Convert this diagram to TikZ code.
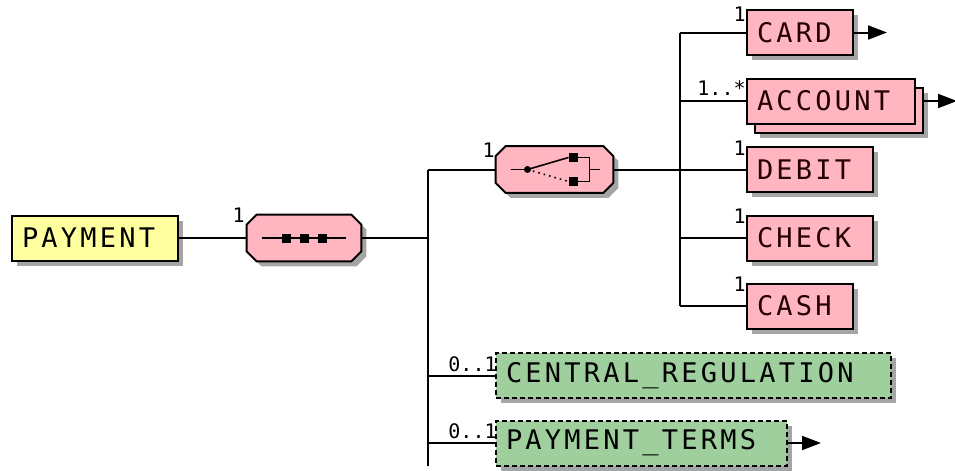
\documentclass[tikz,border=0pt]{standalone}
\usepackage{fontspec}
\usetikzlibrary{shadows,arrows.meta}
\newfontfamily\elemfont{DejaVu Sans Mono}[LetterSpace=12]
\newfontfamily\multfont{DejaVu Sans Mono}
\definecolor{elempink}{RGB}{255,182,193}
\definecolor{elemgreen}{RGB}{160,207,158}
\definecolor{elemyellow}{RGB}{255,255,160}
\definecolor{shadowgrey}{RGB}{165,165,165}
\tikzset{
  shade/.style={drop shadow={shadow xshift=2.5pt, shadow yshift=-2.5pt, fill=shadowgrey, opacity=1}},
  flatelem/.style={draw, line width=1pt, fill=elempink, text=black!85!red,
    text width=#1, align=left, inner xsep=5pt, inner ysep=0pt, minimum height=22.5pt,
    font=\elemfont\fontsize{13.5}{15}\selectfont},
  elem/.style={flatelem=#1, shade},
  optelem/.style={elem=#1, fill=elemgreen, text=black, dash pattern=on 2.5pt off 1.5pt},
  rootelem/.style={elem=#1, fill=elemyellow, text=black},
  compositor/.style={minimum width=#1, minimum height=23pt, inner sep=0pt},
  mult/.style={anchor=south east, inner sep=0pt, font=\multfont\fontsize{10}{11}\selectfont},
  link/.style={line width=1pt},
  goto/.style={link, -{Triangle[length=9.5pt, width=7pt]}}
}
% octagon drawn round a compositor node
\newcommand\compbox[1]{%
  \draw[line width=1pt, fill=elempink, shade]
    ([xshift=5pt]#1.north west) -- ([xshift=-5pt]#1.north east)
    -- ([yshift=-5pt]#1.north east) -- ([yshift=5pt]#1.south east)
    -- ([xshift=-5pt]#1.south east) -- ([xshift=5pt]#1.south west)
    -- ([yshift=5pt]#1.south west) -- ([yshift=-5pt]#1.north west) -- cycle;}
\begin{document}
\begin{tikzpicture}[x=0.5pt, y=-0.5pt]
\useasboundingbox (0,0) rectangle (955,471);

% junctions of the tree
\coordinate (seqjoin) at (428,238);
\coordinate (seqend) at (428,466);
\coordinate (choicejoin) at (680,169.5);

% root and compositors
\node[rootelem=73pt] (payment) at (95,238) {PAYMENT};
\node[compositor=57pt] (seq) at (304,238) {};
\node[compositor=58.5pt] (choice) at (554.5,169.5) {};
\compbox{seq}
\compbox{choice}

% choice members
\node[elem=43pt] (card) at (800,32.5) {CARD};
\node[elem=74pt] (accountback) at (839,110) {};
\node[flatelem=74pt] (account) at (831,101) {ACCOUNT};
\node[elem=53pt] (debit) at (810,169.5) {DEBIT};
\node[elem=53pt] (check) at (810,238) {CHECK};
\node[elem=43pt] (cash) at (800,306) {CASH};

% optional elements
\node[optelem=187.5pt] (central) at (693.5,375.5) {CENTRAL\_REGULATION};
\node[optelem=135.5pt] (terms) at (641.5,443) {PAYMENT\_TERMS};

% connectors
\draw[link] (payment) -- (seq.west);
\draw[link] (seq.east) -- (seqjoin);
\draw[link] (seqjoin |- choice) -- (seqend);
\draw[link] (seqjoin |- choice) -- (choice.west);
\draw[link] (seqjoin |- central) -- (central);
\draw[link] (seqjoin |- terms) -- (terms);
\draw[link] (choice.east) -- (choicejoin);
\draw[link] (choicejoin |- card) -- (choicejoin |- cash);
\foreach \n in {card,account,debit,check,cash}
  \draw[link] (choicejoin |- \n) -- (\n);

% references to global types
\draw[goto] (card.east) -- ++(33,0);
\draw[goto] (accountback.east |- account) -- ++(33,0);
\draw[goto] (terms.east) -- ++(33,0);

% sequence symbol
\begin{scope}[shift={(seq.center)}]
  \draw[line width=0.8pt] (-42,0) -- (42,0);
  \foreach \dx in {-18,0,18}
    \fill (\dx-4.5,-4.5) rectangle (\dx+4.5,4.5);
\end{scope}

% choice symbol
\begin{scope}[shift={(choice.center)}]
  \draw[line width=0.8pt] (-44,0) -- (-27,0);
  \fill (-27,0) circle (3.5);
  \draw[line width=0.8pt] (-27,0) -- (14,-12);
  \draw[line width=0.8pt, dotted] (-27,0) -- (14,12);
  \fill (14,-16.5) rectangle (23,-7.5);
  \fill (14,7.5) rectangle (23,16.5);
  \draw[line width=0.8pt] (23,-12) -- (35,-12) -- (35,12) -- (23,12);
  \draw[line width=0.8pt] (35,0) -- (45,0);
\end{scope}

% occurrence labels
\node[mult] (seqmult) at (245,223) {1};
\node[mult] (choicemult) at (495,158) {1};
\node[mult] (cardmult) at (746,22) {1};
\node[mult] (accountmult) at (746,96) {1..*};
\node[mult] (debitmult) at (746,156) {1};
\node[mult] (checkmult) at (746,224) {1};
\node[mult] (cashmult) at (746,292) {1};
\node[mult] (centralmult) at (497,372) {0..1};
\node[mult] (termsmult) at (497,439) {0..1};
\end{tikzpicture}
\end{document}
